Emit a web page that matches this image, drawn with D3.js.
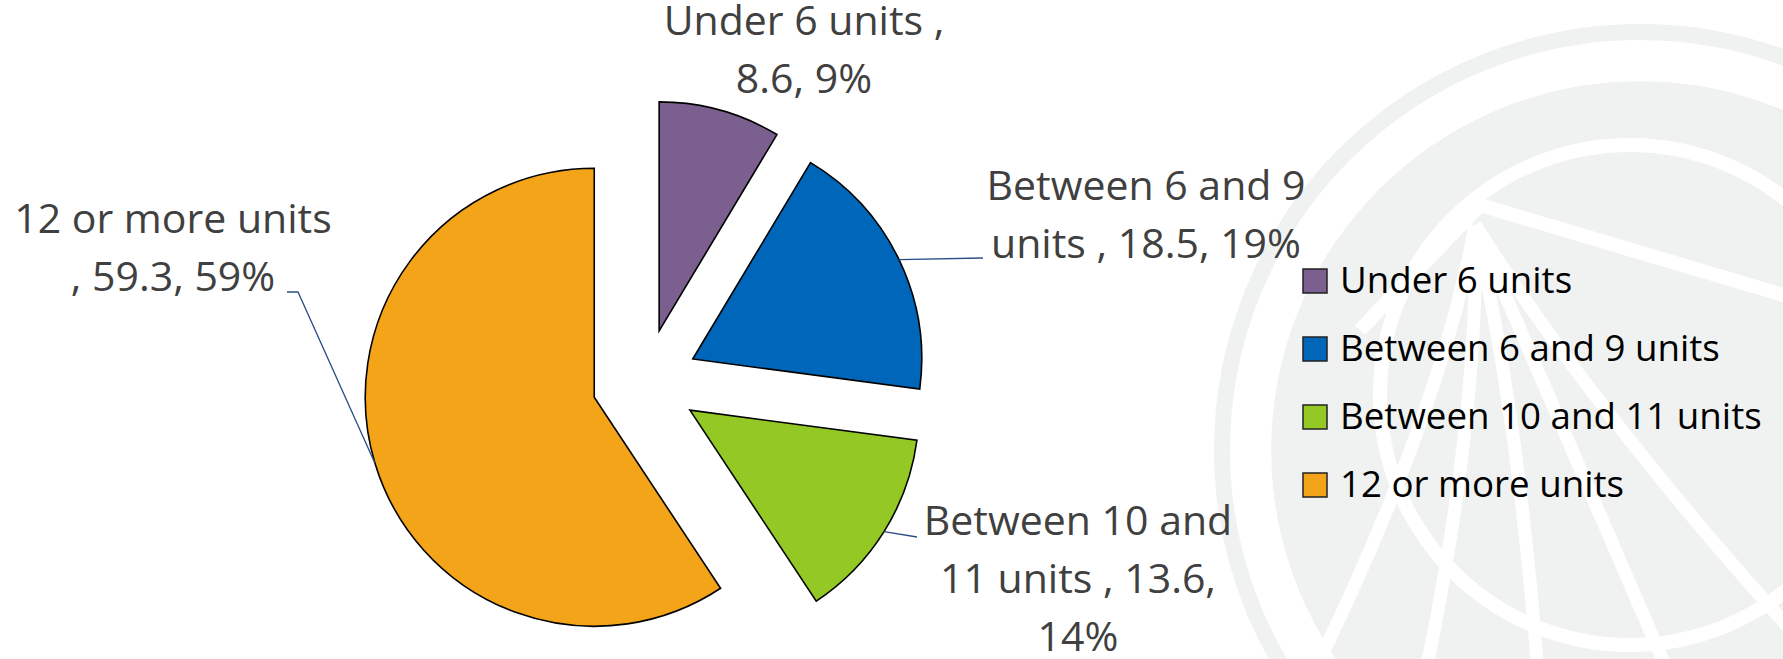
<!DOCTYPE html>
<html>
<head>
<meta charset="utf-8">
<script src="https://cdn.jsdelivr.net/npm/d3@7"></script>
<style>
  html, body { margin: 0; padding: 0; background: #fff; }
  svg { display: block; }
</style>
</head>
<body>
<div id="container"></div>
<script>
// data
const categories = ["Under 6 units", "Between 6 and 9 units", "Between 10 and 11 units", "12 or more units"];
const values = [8.6, 18.5, 13.6, 59.3];
const colors = ["#7b5f8e", "#0066b9", "#93c825", "#f4a419"];

const w = 1783;
const h = 659;
const cx = 645, cy = 382;
const radius = 229;
const explode = 53;

const svg = d3.select("#container").append("svg")
              .attr("width", w).attr("height", h);

svg.append("rect").attr("width", w).attr("height", h).attr("fill", "#fff");

// faint logo watermark behind the legend
const wm = svg.append("g").attr("fill", "none");
const wmC = [1640, 450];
const defs = svg.append("defs");
defs.append("clipPath").attr("id", "inner")
  .append("circle").attr("cx", wmC[0]).attr("cy", wmC[1]).attr("r", 369);
wm.append("circle").attr("cx", wmC[0]).attr("cy", wmC[1]).attr("r", 418)
  .attr("stroke", "#f0f2f1").attr("stroke-width", 16);
const inner = wm.append("g").attr("clip-path", "url(#inner)");
inner.append("circle").attr("cx", wmC[0]).attr("cy", wmC[1]).attr("r", 369).attr("fill", "#f0f2f1");
inner.append("circle").attr("cx", 1630).attr("cy", 395).attr("r", 250)
  .attr("stroke", "#fff").attr("stroke-width", 14);
const fan = [[1300, 700], [1420, 700], [1540, 700], [1680, 700], [1800, 640]];
fan.forEach(function(p, i) {
  inner.append("path")
    .attr("d", "M1475,225 Q" + (1440 + i * 40) + ",420 " + p[0] + "," + p[1])
    .attr("stroke", "#fff").attr("stroke-width", 13);
});
inner.append("path").attr("d", "M1360,330 L1480,205 L1800,300")
  .attr("stroke", "#fff").attr("stroke-width", 14).attr("stroke-linejoin", "round");

// pie
const pie = d3.pie().sort(null).value(d => d)(values);
const arc = d3.arc().innerRadius(0).outerRadius(radius);

function offset(d) {
  const a = (d.startAngle + d.endAngle) / 2;
  return [Math.sin(a) * explode, -Math.cos(a) * explode];
}

svg.selectAll("path.slice").data(pie).enter().append("path")
   .attr("class", "slice")
   .attr("transform", d => "translate(" + (cx + offset(d)[0]) + "," + (cy + offset(d)[1]) + ")")
   .attr("d", arc)
   .attr("fill", (d, i) => colors[i])
   .attr("stroke", "#000")
   .attr("stroke-width", 1.6)
   .attr("stroke-linejoin", "miter");

// data labels
const total = d3.sum(values);
const labelText = values.map((v, i) => categories[i] + " , " + v + ", " + Math.round(v / total * 100) + "%");
const labelLayout = [
  {x: 804, y: 35, leader: null},
  {x: 1146, y: 200, leader: [[983, 258]]},
  {x: 1078, y: 535, leader: [[917, 537]]},
  {x: 173, y: 233, leader: [[298, 292], [287, 292]]}
];
const lineH = 58;
const wrapW = 332;

const labels = svg.append("g")
  .attr("font-family", "'Open Sans', sans-serif")
  .attr("font-size", 41)
  .attr("fill", "#404040")
  .attr("text-anchor", "middle");

labelText.forEach(function(t, i) {
  const pos = labelLayout[i];
  const text = labels.append("text").attr("x", pos.x).attr("y", pos.y);
  const words = t.split(" ");
  let line = [];
  let n = 0;
  let tspan = text.append("tspan").attr("x", pos.x).attr("y", pos.y);
  words.forEach(function(word) {
    line.push(word);
    tspan.text(line.join(" "));
    if (tspan.node().getComputedTextLength() > wrapW && line.length > 1) {
      line.pop();
      tspan.text(line.join(" "));
      line = [word];
      n++;
      tspan = text.append("tspan").attr("x", pos.x).attr("y", pos.y + n * lineH).text(word);
    }
  });
});

// leader lines
const leader = d3.line();
pie.forEach(function(d, i) {
  const pos = labelLayout[i];
  if (!pos.leader) return;
  const a = (d.startAngle + d.endAngle) / 2;
  const o = offset(d);
  const start = [cx + o[0] + Math.sin(a) * radius, cy + o[1] - Math.cos(a) * radius];
  svg.append("path")
    .attr("d", leader([start].concat(pos.leader)))
    .attr("fill", "none")
    .attr("stroke", "#2a4f85")
    .attr("stroke-width", 1.3);
});

// legend
const legend = svg.append("g").attr("transform", "translate(1303,269)");
const rowH = 68;
const items = legend.selectAll("g").data(categories).enter().append("g")
  .attr("transform", (d, i) => "translate(0," + (i * rowH) + ")");
items.append("rect")
  .attr("width", 24).attr("height", 24)
  .attr("fill", (d, i) => colors[i])
  .attr("stroke", "#222").attr("stroke-width", 1.5);
items.append("text")
  .attr("x", 37).attr("y", 24)
  .attr("font-family", "'Open Sans', sans-serif")
  .attr("font-size", 36.7)
  .attr("fill", "#000")
  .text(d => d);
</script>
</body>
</html>
